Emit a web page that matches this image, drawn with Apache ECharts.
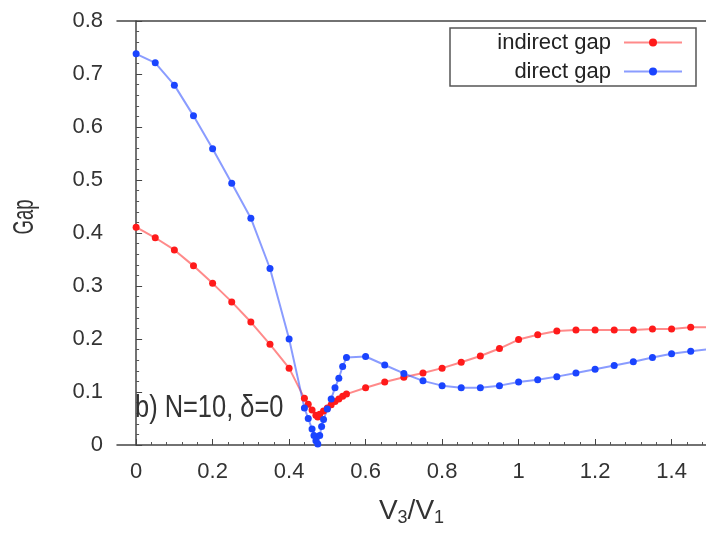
<!DOCTYPE html>
<html>
<head>
<meta charset="utf-8">
<script src="https://cdn.jsdelivr.net/npm/echarts@6/dist/echarts.min.js"></script>
<style>
html,body{margin:0;padding:0;background:#fff;}
#c{width:706px;height:543px;}
</style>
</head>
<body>
<div id="c"></div>
<script>
// ---- data ----
var indirectX = [0,0.05,0.1,0.15,0.2,0.25,0.3,0.35,0.4,0.44,0.45,0.46,0.47,0.475,0.48,0.49,0.5,0.51,0.52,0.53,0.54,0.55,0.6,0.65,0.7,0.75,0.8,0.85,0.9,0.95,1.0,1.05,1.1,1.15,1.2,1.25,1.3,1.35,1.4,1.45,1.5];
var indirectY = [0.411,0.391,0.368,0.338,0.305,0.27,0.232,0.19,0.145,0.088,0.077,0.066,0.056,0.053,0.058,0.064,0.07,0.076,0.082,0.087,0.092,0.096,0.108,0.119,0.128,0.136,0.145,0.156,0.168,0.182,0.199,0.208,0.215,0.217,0.217,0.217,0.217,0.219,0.219,0.222,0.222];
var directX = [0,0.05,0.1,0.15,0.2,0.25,0.3,0.35,0.4,0.44,0.45,0.46,0.465,0.47,0.475,0.48,0.485,0.49,0.5,0.51,0.52,0.53,0.54,0.55,0.6,0.65,0.7,0.75,0.8,0.85,0.9,0.95,1.0,1.05,1.1,1.15,1.2,1.25,1.3,1.35,1.4,1.45,1.5];
var directY = [0.738,0.721,0.679,0.621,0.559,0.494,0.428,0.333,0.2,0.07,0.05,0.03,0.018,0.008,0.002,0.018,0.035,0.048,0.068,0.087,0.108,0.126,0.148,0.165,0.167,0.151,0.135,0.121,0.112,0.108,0.108,0.112,0.119,0.123,0.129,0.136,0.143,0.15,0.157,0.165,0.172,0.177,0.181];
var xTickLabels = [0,0.2,0.4,0.6,0.8,1,1.2,1.4];
var xMinorTicks = [0.04,0.08,0.12,0.16,0.24,0.28,0.32,0.36,0.44,0.48,0.52,0.56,0.64,0.68,0.72,0.76,0.84,0.88,0.92,0.96,1.04,1.08,1.12,1.16,1.24,1.28,1.32,1.36,1.44,1.48];
var seriesNames = ['indirect gap','direct gap'];
var yTitle = 'Gap';
var annotation = 'b) N=10, δ=0';

function pairs(xs, ys){ return xs.map(function(x,i){ return [x, ys[i]]; }); }

var FONT = '"Liberation Sans",Arial,sans-serif';
var chart = echarts.init(document.getElementById('c'));
chart.setOption({
  animation: false,
  backgroundColor: '#fff',
  grid: {left: 117, top: 21, right: 0, bottom: 98, outerBoundsMode: 'none'},
  legend: {
    orient: 'vertical',
    left: 450, top: 28,
    align: 'right',
    padding: [0, 13, 0, 2],
    itemGap: 0,
    itemWidth: 58,
    itemHeight: 10,
    borderColor: '#555',
    borderWidth: 1.5,
    textStyle: {fontFamily: FONT, fontSize: 22, color: '#222', width: 159, align: 'right', lineHeight: 29, padding: [0, 8, 0, 0]},
    data: seriesNames
  },
  xAxis: [{
    type: 'value', min: -0.05, max: 1.49,
    name: 'V{s|3}/V{s|1}',
    nameLocation: 'middle', nameGap: 50,
    nameTextStyle: {fontFamily: FONT, fontSize: 28, color: '#333',
      rich: {s: {fontFamily: FONT, fontSize: 18, color: '#333', verticalAlign: 'bottom', padding: [14,0,0,0]}}},
    axisLine: {show: true, lineStyle: {color: '#444', width: 1.5}},
    axisTick: {show: true, inside: true, length: 6, customValues: xTickLabels, lineStyle: {color: '#444'}},
    axisLabel: {customValues: xTickLabels, margin: 16, fontFamily: FONT, fontSize: 22, color: '#333'},
    splitLine: {show: false}
  }, {
    type: 'value', position: 'top', min: -0.05, max: 1.49,
    axisLine: {show: true, lineStyle: {color: '#444', width: 1.5}},
    axisTick: {show: false}, axisLabel: {show: false}, splitLine: {show: false}
  }, {
    type: 'value', position: 'bottom', min: -0.05, max: 1.49,
    axisLine: {show: false},
    axisTick: {show: true, inside: true, length: 3, customValues: xMinorTicks, lineStyle: {color: '#555'}},
    axisLabel: {show: false}, splitLine: {show: false}
  }],
  yAxis: {
    type: 'value', min: 0, max: 0.8, interval: 0.1,
    axisLine: {show: true, lineStyle: {color: '#444', width: 1.5}},
    axisTick: {show: true, inside: true, length: 6, lineStyle: {color: '#444'}},
    minorTick: {show: true, splitNumber: 5, length: 3, lineStyle: {color: '#555'}},
    axisLabel: {margin: 14, fontFamily: FONT, fontSize: 22, color: '#333',
      formatter: function(v){ return v === 0 ? '0' : v.toFixed(1); }},
    splitLine: {show: false}
  },
  graphic: [{
    type: 'text', x: 135, y: 408, z: 10, scaleX: 0.82,
    style: {text: annotation, font: '31px ' + FONT, fill: '#333', verticalAlign: 'middle', align: 'left'}
  }, {
    type: 'text', x: 25, y: 217, rotation: Math.PI / 2, scaleX: 0.64,
    style: {text: yTitle, font: '29px ' + FONT, fill: '#333', verticalAlign: 'middle', align: 'center'}
  }],
  series: [{
    name: seriesNames[0], type: 'line', xAxisIndex: 0,
    data: pairs(indirectX, indirectY),
    symbol: 'circle', symbolSize: 7, showSymbol: true,
    itemStyle: {color: '#ff1a1a'},
    lineStyle: {color: 'rgba(255,60,60,0.6)', width: 2}
  }, {
    name: seriesNames[1], type: 'line', xAxisIndex: 0,
    data: pairs(directX, directY),
    symbol: 'circle', symbolSize: 7, showSymbol: true,
    itemStyle: {color: '#1a44ff'},
    lineStyle: {color: 'rgba(60,90,255,0.6)', width: 2}
  }]
});
</script>
</body>
</html>
